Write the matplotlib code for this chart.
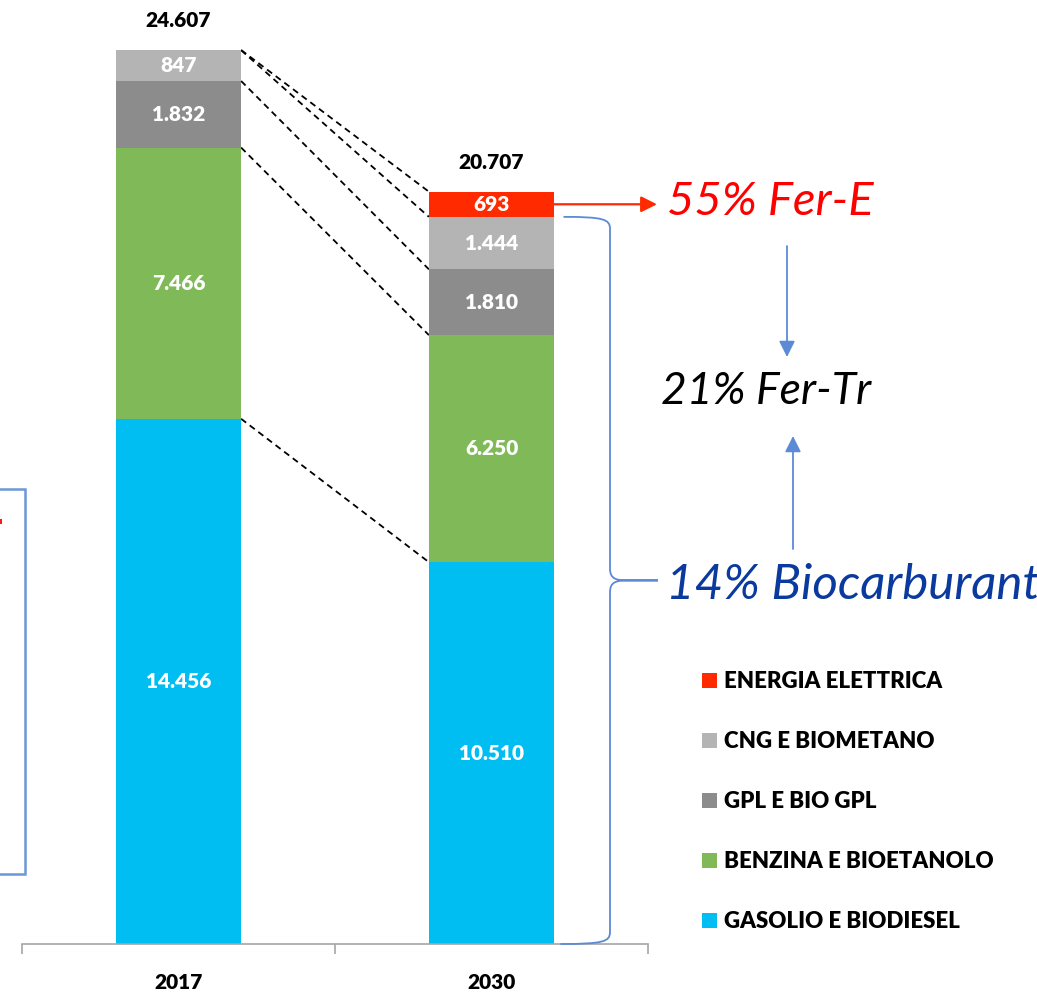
import matplotlib
matplotlib.use("Agg")
import matplotlib.pyplot as plt
from matplotlib.patches import Patch, Rectangle, PathPatch
from matplotlib.path import Path
import numpy as np

# ---------------- data ----------------
years = ["2017", "2030"]
categories = ["GASOLIO E BIODIESEL", "BENZINA E BIOETANOLO", "GPL E BIO GPL",
              "CNG E BIOMETANO", "ENERGIA ELETTRICA"]
gasolio = [14456, 10510]
benzina = [7466, 6250]
gpl = [1832, 1810]
cng = [847, 1444]
elettrica = [6, 693]
totals = [24607, 20707]
series = [gasolio, benzina, gpl, cng, elettrica]
colors = ["#00BEF2", "#80BA58", "#8C8C8C", "#B4B4B4", "#FF2A00"]

ann_fer_e = "55% Fer-E"
ann_fer_tr = "21% Fer-Tr"
ann_bio = "14% Biocarburanti"

# ---------------- layout ----------------
W, H = 1037, 994
FONT = "Lato"
BOLD = 800
fig = plt.figure(figsize=(W / 100, H / 100), dpi=100)
ax_left, ax_right, ax_base = 22, 648, 944
ax = fig.add_axes([ax_left / W, (H - ax_base) / H, (ax_right - ax_left) / W, ax_base / H])
px_per_unit = (944 - 50) / totals[0]
ymax = ax_base / px_per_unit
ax.set_xlim(-0.5, 1.5)
ax.set_ylim(0, ymax)

def xd(px):
    return (px - ax_left) / (ax_right - ax_left) * 2 - 0.5

def yd(py):
    return (ax_base - py) / px_per_unit

def fmt(v):
    return f"{v:,}".replace(",", ".")

x = np.arange(len(years))
bw = 0.4
bottoms = np.zeros(len(years))
cums = []
for vals, col in zip(series, colors):
    vals = np.array(vals, dtype=float)
    ax.bar(x, vals, bw, bottom=bottoms, color=col, linewidth=0, zorder=2)
    for xi, v, b in zip(x, vals, bottoms):
        if v > 300:
            ax.text(xi, b + v / 2, fmt(int(v)), ha="center", va="center",
                    color="white", fontsize=15, fontweight=BOLD, family=FONT, zorder=3)
    bottoms = bottoms + vals
    cums.append(bottoms.copy())

for xi, t in zip(x, totals):
    ax.annotate(fmt(t), (xi, t), xytext=(0, 21), textcoords="offset points",
                ha="center", va="center", fontsize=15, fontweight=BOLD,
                family=FONT, color="black", annotation_clip=False)

# dashed connectors between segment boundaries
for c in cums:
    ax.plot([x[0] + bw / 2, x[1] - bw / 2], [c[0], c[1]], color="black",
            lw=1.3, ls=(0, (3.5, 2.5)), zorder=1)

# axes styling
for s in ["left", "top", "right"]:
    ax.spines[s].set_visible(False)
ax.spines["bottom"].set_color("#A6A6A6")
ax.spines["bottom"].set_linewidth(1.2)
ax.set_yticks([])
ax.set_xticks(x)
ax.set_xticklabels(years, fontsize=15, fontweight=BOLD, family=FONT)
ax.tick_params(axis="x", which="major", length=0, pad=21)
ax.set_xticks([-0.5, 0.5, 1.5], minor=True)
ax.tick_params(axis="x", which="minor", length=7.5, width=1.2, color="#A6A6A6", direction="out")

# red arrow -> 55% Fer-E
red_mid = cums[3][1] + elettrica[1] / 2
ax.annotate("", xy=(xd(657), red_mid), xytext=(x[1] + bw / 2, red_mid),
            arrowprops=dict(arrowstyle="-|>", color="#FF2A00", lw=1.6, mutation_scale=24,
                            shrinkA=0, shrinkB=0), annotation_clip=False)
ax.text(xd(667), yd(198), ann_fer_e, ha="left", va="center_baseline", fontsize=34,
        style="italic", color="#FF0000", family=FONT)

ax.text(xd(661), yd(388), ann_fer_tr, ha="left", va="center_baseline", fontsize=32,
        style="italic", color="black", family=FONT)

# brace for biofuels
blue = "#5B8BD5"
ytop = cums[3][1]
ymid = ytop / 2
xb0 = x[1] + bw / 2 + 0.03
xv = xd(610)
xt = xd(658)
rx = 0.06
ry = 12 / px_per_unit
verts = [(xb0, ytop), (xv - 0.02, ytop), (xv, ytop - ry * 0.2), (xv, ytop - ry),
         (xv, ymid + ry),
         (xv, ymid + 0.1 * ry), (xv + 0.02, ymid), (xv + rx, ymid),
         (xt, ymid),
         (xv + rx, ymid),
         (xv + 0.02, ymid), (xv, ymid - 0.1 * ry), (xv, ymid - ry),
         (xv, ry),
         (xv, 0.2 * ry), (xv - 0.02, 0), (xb0 - 0.01, 0)]
codes = [Path.MOVETO, Path.CURVE4, Path.CURVE4, Path.CURVE4,
         Path.LINETO,
         Path.CURVE4, Path.CURVE4, Path.CURVE4,
         Path.LINETO,
         Path.LINETO,
         Path.CURVE4, Path.CURVE4, Path.CURVE4,
         Path.LINETO,
         Path.CURVE4, Path.CURVE4, Path.CURVE4]
ax.add_patch(PathPatch(Path(verts, codes), facecolor="none", edgecolor=blue, lw=1.3,
                       clip_on=False, zorder=4))
ax.text(xd(666), yd(581), ann_bio, ha="left", va="center_baseline", fontsize=35.5,
        style="italic", color="#0A3A9E", family=FONT)

# blue arrows toward Fer-Tr
ax.annotate("", xy=(xd(787), yd(357)), xytext=(xd(787), yd(246)),
            arrowprops=dict(arrowstyle="-|>", color=blue, lw=1.3, mutation_scale=24,
                            shrinkA=0, shrinkB=0), annotation_clip=False)
ax.annotate("", xy=(xd(793), yd(436)), xytext=(xd(793), yd(549)),
            arrowprops=dict(arrowstyle="-|>", color=blue, lw=1.3, mutation_scale=24,
                            shrinkA=0, shrinkB=0), annotation_clip=False)

# partial box at left edge (cut-off annotation)
fig.add_artist(Rectangle((-20 / W, 1 - 874 / H), 45 / W, (874 - 489) / H,
                         transform=fig.transFigure, facecolor="none",
                         edgecolor="#6A98D8", lw=1.8))
fig.add_artist(Rectangle((-4 / W, 1 - 524 / H), 6 / W, 5 / H,
                         transform=fig.transFigure, facecolor="#FF1A1A",
                         edgecolor="none"))

# legend
handles = [Patch(facecolor=c, edgecolor="none") for c in colors[::-1]]
fig.legend(handles, categories[::-1], loc="upper left",
           bbox_to_anchor=(702 / W, 1 - 671 / H), frameon=False,
           prop=dict(family=FONT, weight=BOLD, size=16),
           handlelength=0.68, handleheight=0.68, handletextpad=0.3,
           labelspacing=1.76, borderpad=0, borderaxespad=0)

fig.savefig("out.png", dpi=100)
